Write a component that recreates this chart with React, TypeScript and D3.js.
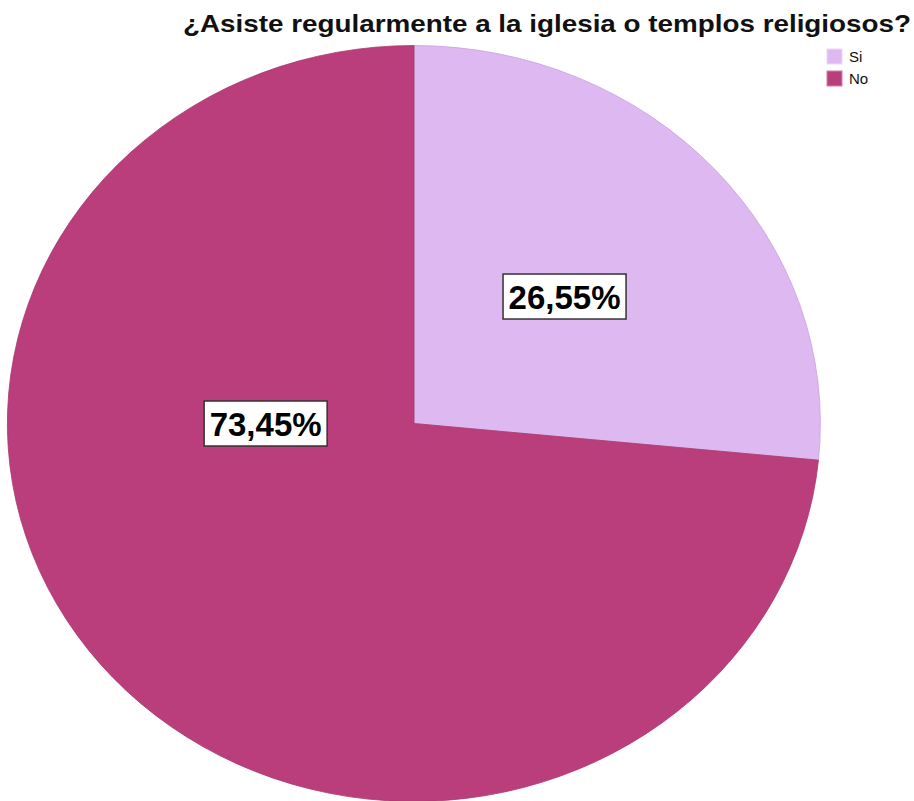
import React from "react";
import * as d3 from "d3";

const categories = ["Si", "No"];
const values = [26.55, 73.45];
const labels = ["26,55%", "73,45%"];
const colors = ["#DDB8F1", "#BA3E7B"];
const title = "¿Asiste regularmente a la iglesia o templos religiosos?";

const W = 914;
const H = 801;
const cx = 414;
const cy = 423.5;
const rx = 406.5;
const ry = 378;
// label anchor: [angle (radians from 12 o'clock), fraction of radius]; null angle = slice mid angle
const labelAnchors: Array<[number | null, number]> = [[null, 0.5], [Math.PI * 1.5, 0.365]];

export default function App() {
  const pie = d3.pie<number>().sort(null).value((d) => d);
  const arcs = pie(values);
  const arc = d3.arc<d3.PieArcDatum<number>>().innerRadius(0).outerRadius(1);
  const font = "'Liberation Sans', Arial, sans-serif";

  return (
    <svg
      width={W}
      height={H}
      style={{ position: "absolute", left: 0, top: 0, background: "#fff" }}
      fontFamily={font}
    >
      <text
        x={183}
        y={32}
        fontSize={24}
        fontWeight="bold"
        fill="#111"
        textLength={728}
        lengthAdjust="spacingAndGlyphs"
      >
        {title}
      </text>
      <g transform={`translate(${cx},${cy}) scale(${rx},${ry})`}>
        {arcs.map((a, i) => (
          <path
            key={categories[i]}
            d={arc(a) || ""}
            fill={colors[i]}
            stroke={i === 0 ? "#c9a0e0" : "#a8386f"}
            strokeWidth={0.8}
            vectorEffect="non-scaling-stroke"
          />
        ))}
      </g>
      {arcs.map((a, i) => {
        const [ang0, f] = labelAnchors[i];
        const ang = ang0 === null ? (a.startAngle + a.endAngle) / 2 : ang0;
        const x = cx + f * rx * Math.sin(ang);
        const y = cy - f * ry * Math.cos(ang);
        const bw = 123;
        const bh = 45;
        return (
          <g key={"l" + i}>
            <rect
              x={x - bw / 2}
              y={y - bh / 2}
              width={bw}
              height={bh}
              fill="#fff"
              stroke="#333"
              strokeWidth={1.5}
            />
            <text
              x={x}
              y={y + 12}
              textAnchor="middle"
              fontSize={33}
              fontWeight="bold"
              fill="#000"
            >
              {labels[i]}
            </text>
          </g>
        );
      })}
      {categories.map((c, i) => (
        <g key={"lg" + c} transform={`translate(827,${49 + i * 22})`}>
          <rect width={15} height={15} fill={colors[i]} stroke={i === 0 ? "#ecd8f6" : "#d27fa8"} strokeWidth={1} />
          <text x={22} y={13} fontSize={15} fill="#111">
            {c}
          </text>
        </g>
      ))}
    </svg>
  );
}
